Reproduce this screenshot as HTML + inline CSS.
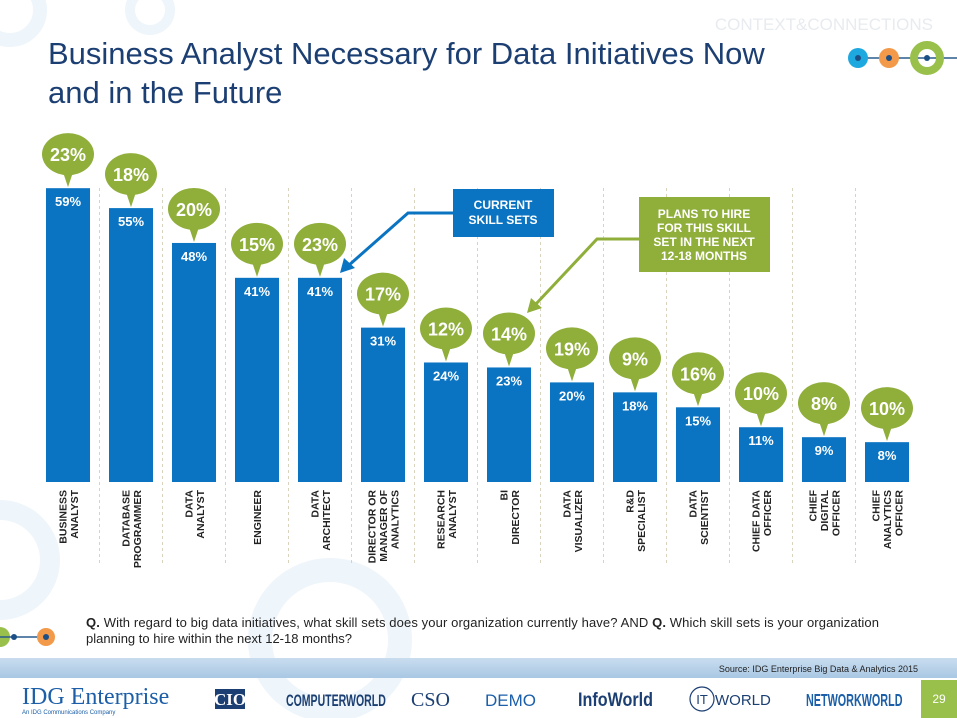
<!DOCTYPE html>
<html><head><meta charset="utf-8"><style>
html,body{margin:0;padding:0;background:#fff}
body{width:957px;height:718px;position:relative;overflow:hidden;font-family:"Liberation Sans",sans-serif}
</style></head><body>
<svg width="957" height="718" viewBox="0 0 957 718" style="position:absolute;left:0;top:0">
  <g fill="none" stroke="#eef5fb">
    <circle cx="10" cy="10" r="30" stroke-width="14"/>
    <circle cx="150" cy="10" r="20" stroke-width="10"/>
    <circle cx="0" cy="560" r="50" stroke-width="20"/>
    <circle cx="330" cy="640" r="70" stroke-width="24"/>
  </g>
  <text x="933" y="30" text-anchor="end" font-size="17" fill="#e8ebef">CONTEXT&amp;CONNECTIONS</text>
  <g>
    <line x1="852" y1="58" x2="957" y2="58" stroke="#2a5b8e" stroke-width="1.5"/>
    <circle cx="858" cy="58" r="10" fill="#1ea8e0"/><circle cx="858" cy="58" r="3" fill="#1b4f86"/>
    <circle cx="889" cy="58" r="10" fill="#f29a4a"/><circle cx="889" cy="58" r="3" fill="#1b4f86"/>
    <circle cx="927" cy="58" r="13" fill="none" stroke="#98c04a" stroke-width="8"/><circle cx="927" cy="58" r="3" fill="#1b4f86"/>
  </g>
  <text x="48" y="64" font-size="31" fill="#1c3f73">Business Analyst Necessary for Data Initiatives Now</text>
  <text x="48" y="103" font-size="31" fill="#1c3f73">and in the Future</text>
  <g id="chart"></g>
  <g>
    <rect x="453" y="189" width="101" height="48" fill="#0b74c2"/>
    <text x="503" y="209" text-anchor="middle" font-size="12" font-weight="bold" fill="#fff">CURRENT</text>
    <text x="503" y="224" text-anchor="middle" font-size="12" font-weight="bold" fill="#fff">SKILL SETS</text>
    <polyline points="453,213 408,213 348,266" fill="none" stroke="#0b74c2" stroke-width="3"/>
    <polygon points="340,273 344,258 355,268" fill="#0b74c2"/>
  </g>
  <g>
    <rect x="639" y="197" width="131" height="75" fill="#8fae3a"/>
    <text x="704" y="218" text-anchor="middle" font-size="12" font-weight="bold" fill="#fff">PLANS TO HIRE</text>
    <text x="704" y="232" text-anchor="middle" font-size="12" font-weight="bold" fill="#fff">FOR THIS SKILL</text>
    <text x="704" y="246" text-anchor="middle" font-size="12" font-weight="bold" fill="#fff">SET IN THE NEXT</text>
    <text x="704" y="260" text-anchor="middle" font-size="12" font-weight="bold" fill="#fff">12-18 MONTHS</text>
    <polyline points="639,239 597,239 535,305" fill="none" stroke="#8fae3a" stroke-width="3"/>
    <polygon points="527,313 531,298 542,308" fill="#8fae3a"/>
  </g>
  <g>
    <circle cx="0" cy="637" r="10" fill="#98c04a"/>
    <line x1="0" y1="637" x2="46" y2="637" stroke="#2a5b8e" stroke-width="1.5"/>
    <circle cx="14" cy="637" r="3" fill="#1b4f86"/>
    <circle cx="46" cy="637" r="9" fill="#f29a4a"/><circle cx="46" cy="637" r="3" fill="#1b4f86"/>
  </g>
  <text x="86" y="627" font-size="13" fill="#222" textLength="793"><tspan font-weight="bold">Q.</tspan> With regard to big data initiatives, what skill sets does your organization currently have? AND <tspan font-weight="bold">Q.</tspan> Which skill sets is your organization</text>
  <text x="86" y="643" font-size="13" fill="#222">planning to hire within the next 12-18 months?</text>
  <defs><linearGradient id="band" x1="0" y1="0" x2="0" y2="1"><stop offset="0" stop-color="#c9ddef"/><stop offset="1" stop-color="#a9c7e3"/></linearGradient></defs>
  <rect x="0" y="658" width="957" height="20" fill="url(#band)"/>
  <text x="918" y="672" text-anchor="end" font-size="9" fill="#222">Source: IDG Enterprise Big Data &amp; Analytics 2015</text>
  <g>
    <text x="22" y="704" font-family="Liberation Serif,serif" font-size="24" fill="#1c5fa8">IDG Enterprise</text>
    <text x="22" y="714" font-size="6" fill="#1c5fa8">An IDG Communications Company</text>
    <rect x="215" y="689" width="30" height="20" fill="#1c3f73"/><text x="230" y="705" text-anchor="middle" font-family="Liberation Serif,serif" font-size="17" font-weight="bold" fill="#fff">CIO</text>
    <text transform="translate(286 706) scale(0.62 1)" font-size="17" font-weight="bold" fill="#1c3f73">COMPUTERWORLD</text>
    <text x="411" y="706" font-family="Liberation Serif,serif" font-size="20" fill="#1c3f73">CSO</text>
    <text x="485" y="706" font-size="17" fill="#1c5fa8">DEMO</text>
    <text transform="translate(578 706) scale(0.85 1)" font-size="19" font-weight="bold" fill="#1c3f73">InfoWorld</text>
    <circle cx="702" cy="699" r="12" fill="none" stroke="#1c3f73" stroke-width="1.2"/>
    <text x="702" y="704" text-anchor="middle" font-size="13" fill="#1c3f73">IT</text>
    <text x="715" y="705" font-size="15" fill="#1c3f73">WORLD</text>
    <text transform="translate(806 706) scale(0.6 1)" font-size="18" font-weight="bold" fill="#1c5fa8">NETWORKWORLD</text>
  </g>
  <rect x="921" y="680" width="36" height="38" fill="#98c04a"/>
  <text x="939" y="703" text-anchor="middle" font-size="12" fill="#fff">29</text>
</svg>
<script>
const categories = [["BUSINESS","ANALYST"],["DATABASE","PROGRAMMER"],["DATA","ANALYST"],["ENGINEER"],["DATA","ARCHITECT"],["DIRECTOR OR","MANAGER OF","ANALYTICS"],["RESEARCH","ANALYST"],["BI","DIRECTOR"],["DATA","VISUALIZER"],["R&D","SPECIALIST"],["DATA","SCIENTIST"],["CHIEF DATA","OFFICER"],["CHIEF","DIGITAL","OFFICER"],["CHIEF","ANALYTICS","OFFICER"]];
const currentSkills = [59,55,48,41,41,31,24,23,20,18,15,11,9,8];
const plansToHire = [23,18,20,15,23,17,12,14,19,9,16,10,8,10];

const NS = "http://www.w3.org/2000/svg";
const g = document.getElementById("chart");
const baseY = 482, pxPer = 4.98, x0 = 46, step = 63, barW = 44;
function xPos(i){ return x0 + i*step; }
function yPos(v){ return baseY - v*pxPer; }
function mk(tag, attrs){ const e = document.createElementNS(NS, tag); for (const k in attrs) e.setAttribute(k, attrs[k]); return e; }

for (let i = 0; i < categories.length; i++) {
  const x = xPos(i), y = yPos(currentSkills[i]), cx = x + barW/2;
  if (i < categories.length - 1) {
    const sep = mk("line", {x1: x+barW+9.5, y1: 188, x2: x+barW+9.5, y2: 565, stroke: "#d9d2bd", "stroke-width": 1, "stroke-dasharray": "3,3"});
    
    
    g.appendChild(sep);
  }
  const bar = mk("rect", {x: x, y: y, width: barW, height: baseY - y, fill: "#0b74c2"});
  
  
  g.appendChild(bar);
  const val = mk("text", {x: cx, y: y + 18, "text-anchor": "middle", "font-size": 13, "font-weight": "bold", fill: "#fff"});
  val.textContent = currentSkills[i] + "%";
  
  
  g.appendChild(val);
  const bub = mk("g", {});
  
  
  const by = y - 34;
  bub.appendChild(mk("ellipse", {cx: cx, cy: by, rx: 26, ry: 21, fill: "#8fae3a"}));
  bub.appendChild(mk("polygon", {points: (cx-6)+","+(by+15)+" "+(cx+6)+","+(by+15)+" "+cx+","+(y-1), fill: "#8fae3a"}));
  const bt = mk("text", {x: cx, y: by + 7, "text-anchor": "middle", "font-size": 18, "font-weight": "bold", fill: "#fff"});
  bt.textContent = plansToHire[i] + "%";
  bub.appendChild(bt);
  g.appendChild(bub);
  const lines = categories[i], n = lines.length, lh = 11.5;
  const lab = mk("g", {});
  
  
  lines.forEach((s, j) => {
    const lx = cx - ((n-1)*lh)/2 + j*lh + 4;
    const t = mk("text", {x: lx, y: 490, "text-anchor": "end", "font-size": 10.5, "font-weight": "bold", fill: "#222", transform: "rotate(-90 " + lx + " 490)"});
    t.textContent = s;
    lab.appendChild(t);
  });
  g.appendChild(lab);
}
</script>
</body></html>
